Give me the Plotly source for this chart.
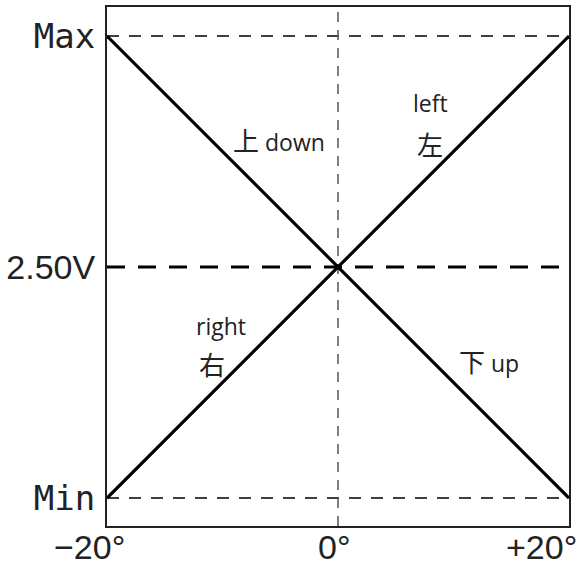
import plotly.graph_objects as go

# ---- data ----
angles = [-20, 20]                      # tilt angle, degrees
updown_signal = [5.0, 0.0]              # 上 / down output (V scale, Min..Max)
leftright_signal = [0.0, 5.0]           # 左 / right output
y_tick_vals = [0.0, 2.5, 5.0]
y_tick_labels = ["Min", "2.50V", "Max"]
x_tick_vals = [-20, 0, 20]
x_tick_labels = ["−20°", "0°", "+20°"]
ref_levels = [0.0, 2.5, 5.0]            # dashed reference levels
center_angle = [0]

MONO = "DejaVu Sans Mono"
SANS = "Liberation Sans, Arial, sans-serif"

fig = go.Figure()
fig.add_trace(go.Scatter(x=angles, y=updown_signal, mode="lines",
                         line=dict(color="black", width=3.2), showlegend=False, cliponaxis=False))
fig.add_trace(go.Scatter(x=angles, y=leftright_signal, mode="lines",
                         line=dict(color="black", width=3.2), showlegend=False, cliponaxis=False))

# dashed horizontal reference lines
for lv in ref_levels:
    if lv == 2.5:
        fig.add_shape(type="line", xref="paper", yref="y", x0=0, x1=1, y0=lv, y1=lv,
                      line=dict(color="black", width=3, dash="18px,13px"), layer="below")
    else:
        fig.add_shape(type="line", xref="paper", yref="y", x0=0, x1=1, y0=lv, y1=lv,
                      line=dict(color="black", width=1.5, dash="12px,10px"), layer="below")
# vertical dashed line at 0°
for a in center_angle:
    fig.add_shape(type="line", xref="x", yref="paper", x0=a, x1=a, y0=0, y1=1,
                  line=dict(color="#555555", width=1.5, dash="10px,8px"), layer="below")

CJK_SPAN = "<span style='font-family:Noto Sans CJK JP;font-size:26px'>{}</span>"
ann = [
    (CJK_SPAN.format("上") + " down", -5.08, 3.885),
    ("left", 8.03, 4.28),
    (CJK_SPAN.format("左"), 7.94, 3.84),
    ("right", -10.11, 1.86),
    (CJK_SPAN.format("右"), -10.89, 1.46),
    (CJK_SPAN.format("下") + " up", 13.06, 1.49),
]
for t, x, y in ann:
    fig.add_annotation(text=t, x=x, y=y, xref="x", yref="y", showarrow=False,
                       borderpad=0,
                       font=dict(family="Open Sans, Liberation Sans, sans-serif", size=23, color="#222222"))

# x tick labels (drawn at the axis tick values, nudged as in the original artwork)
x_label_shift = [-18, -4, -28]
for v, lab, dx in zip(x_tick_vals, x_tick_labels, x_label_shift):
    fig.add_annotation(text=lab, x=v, y=0, xref="x", yref="paper", yanchor="top",
                       xanchor="center", xshift=dx, yshift=-1, showarrow=False, borderpad=0,
                       font=dict(family=SANS, size=34, color="#222222"))

yt = []
for lab in y_tick_labels:
    if lab in ("Min", "Max"):
        yt.append(f"<span style='font-family:{MONO}'>{lab}</span>")
    else:
        yt.append(lab)

fig.update_xaxes(range=[-20, 20], tickvals=x_tick_vals, showticklabels=False,
                 showgrid=False, zeroline=False, showline=True, mirror=True,
                 linecolor="#222222", linewidth=2, ticks="", automargin=False)
fig.update_yaxes(range=[-0.303, 5.314], tickvals=y_tick_vals, ticktext=yt,
                 showgrid=False, zeroline=False, showline=True, mirror=True,
                 linecolor="#222222", linewidth=2, ticks="", ticklabelstandoff=3,
                 automargin=False, ticklabeloverflow="allow",
                 tickfont=dict(family=SANS, size=34, color="#222222"))

fig.update_layout(width=576, height=570, margin=dict(l=107, r=7, t=7, b=44),
                  plot_bgcolor="white", paper_bgcolor="white")

fig.write_html("out.html", config={"displayModeBar": False},
               post_script="document.body.style.margin='0';document.body.style.padding='0';")
